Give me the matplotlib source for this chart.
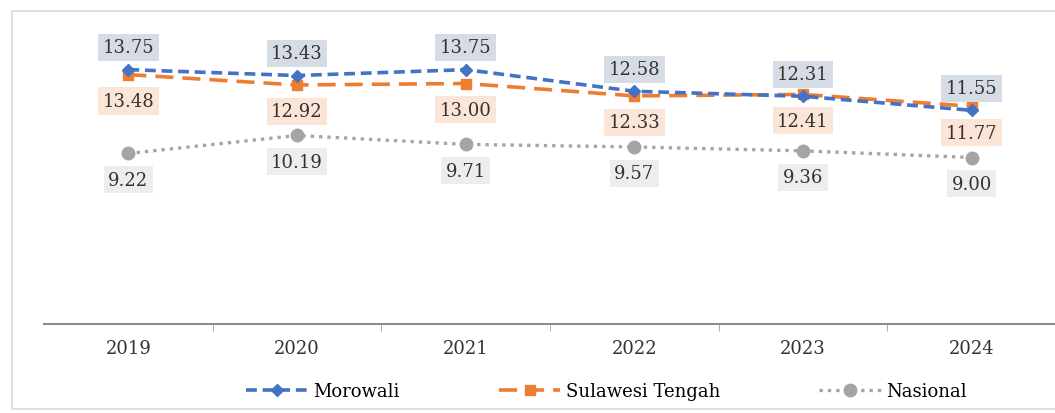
import matplotlib
matplotlib.use("Agg")
from matplotlib import pyplot as plt
from matplotlib.patches import Rectangle

tahun = ["2019", "2020", "2021", "2022", "2023", "2024"]
morowali = [13.75, 13.43, 13.75, 12.58, 12.31, 11.55]
sulteng = [13.48, 12.92, 13.00, 12.33, 12.41, 11.77]
nasional = [9.22, 10.19, 9.71, 9.57, 9.36, 9.00]

plt.rcParams['font.family'] = ['DejaVu Serif']

fig = plt.figure(figsize=(10.55, 4.14), dpi=100)
ax = fig.add_axes([44 / 1055, 89 / 414, 1012 / 1055, 296 / 414])

x = list(range(len(tahun)))
ax.plot(x, morowali, color='#4472C4', linestyle=(0, (3, 1.6)), linewidth=2.6,
        marker='D', markersize=6, label='Morowali', zorder=4)
ax.plot(x, sulteng, color='#ED7D31', linestyle=(0, (5, 2.5)), linewidth=2.6,
        marker='s', markersize=7, label='Sulawesi Tengah', zorder=3)
ax.plot(x, nasional, color='#A5A5A5', linestyle=(0, (1, 1.5)), linewidth=2.4,
        marker='o', markersize=9, label='Nasional', zorder=2)

for i in x:
    ax.annotate(f"{morowali[i]:.2f}", (i, morowali[i]), xytext=(0, 16),
                textcoords='offset points', ha='center', va='center', fontsize=13,
                color='#333333', bbox=dict(boxstyle='square,pad=0.25', fc='#D6DCE5', ec='none'))
    ax.annotate(f"{sulteng[i]:.2f}", (i, sulteng[i]), xytext=(0, -19),
                textcoords='offset points', ha='center', va='center', fontsize=13,
                color='#333333', bbox=dict(boxstyle='square,pad=0.25', fc='#FBE5D6', ec='none'))
    ax.annotate(f"{nasional[i]:.2f}", (i, nasional[i]), xytext=(0, -19),
                textcoords='offset points', ha='center', va='center', fontsize=13,
                color='#333333', bbox=dict(boxstyle='square,pad=0.25', fc='#EDEDED', ec='none'))

ax.set_xlim(-0.5, 5.5)
ax.set_ylim(0, 16)
ax.set_xticks(x)
ax.set_xticklabels(tahun, fontsize=13, color='#333333')
ax.set_xticks([i + 0.5 for i in x[:-1]], minor=True)
ax.tick_params(axis='x', which='major', length=0, pad=11)
ax.tick_params(axis='x', which='minor', length=5, color='#A0A0A0')
ax.set_yticks([])
for s in ['top', 'right', 'left']:
    ax.spines[s].set_visible(False)
ax.spines['bottom'].set_color('#8C8C8C')
ax.spines['bottom'].set_linewidth(1.5)

fig.legend(loc='center', bbox_to_anchor=(0.575, 0.053), ncol=3, frameon=False,
           fontsize=13, handlelength=3.4, columnspacing=5.5, handletextpad=0.3)

fig.patches.append(Rectangle((12 / 1055, 4 / 414), 1.1, 398 / 414, transform=fig.transFigure,
                             fill=False, ec='#D9D9D9', lw=1.2))

fig.savefig("out.png", dpi=100)
